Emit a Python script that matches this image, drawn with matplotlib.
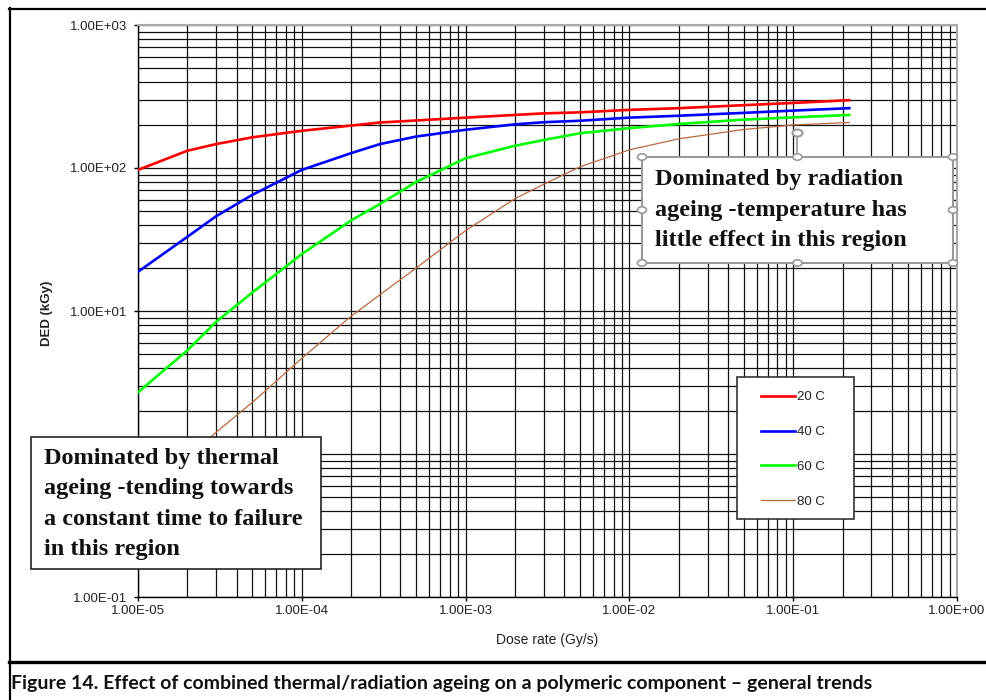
import matplotlib
matplotlib.use("Agg")
import matplotlib.pyplot as plt
from matplotlib.patches import Rectangle, Circle
from matplotlib.lines import Line2D
from matplotlib.ticker import LogLocator, FuncFormatter, NullFormatter

# ---------------- data ----------------
dose_rate = [1e-5, 2e-5, 3e-5, 5e-5, 1e-4, 2e-4, 3e-4, 5e-4, 1e-3, 2e-3,
             3e-3, 5e-3, 1e-2, 2e-2, 5e-2, 1e-1, 2.2e-1]
ded_20C = [97, 132, 147, 164, 182, 198, 208, 215, 225, 235, 241, 245, 255,
           262, 275, 285, 298]
ded_40C = [18.8, 33, 46, 65, 97, 127, 147, 166, 185, 202, 209, 214, 225,
           232, 243, 252, 262]
ded_60C = [2.7, 5.3, 8.4, 13.5, 25, 43, 56, 80, 117, 143, 157, 175, 190,
           203, 218, 226, 235]
ded_80C = [0.47, 0.95, 1.42, 2.3, 4.67, 9.2, 13, 20, 36.5, 61, 77, 102, 134,
           160, 186, 200, 208]
series_labels = ["20 C", "40 C", "60 C", "80 C"]
series_colors = ["#ff0000", "#0000ff", "#00ff00", "#b8683e"]
series_widths = [1.9, 1.9, 1.9, 0.9]

note_radiation = "Dominated by radiation\nageing -temperature has\nlittle effect in this region"
note_thermal = "Dominated by thermal\nageing -tending towards\na constant time to failure\nin this region"
caption = ("Figure 14. Effect of combined thermal/radiation ageing on a "
           "polymeric component \u2013 general trends")

W, H = 987, 700
fig = plt.figure(figsize=(W / 100, H / 100), dpi=100)


def fx(x):
    return x / W


def fy(y):
    return 1 - y / H


ax = fig.add_axes([fx(138), fy(597), (957 - 138) / W, (597 - 25) / H])
ax.set_xscale("log")
ax.set_yscale("log")
ax.set_xlim(1e-5, 1)
ax.set_ylim(0.1, 1000)

for ys, lab, col, lw in zip([ded_20C, ded_40C, ded_60C, ded_80C],
                            series_labels, series_colors, series_widths):
    ax.plot(dose_rate, ys, color=col, lw=lw, label=lab, zorder=3)

ax.xaxis.set_major_locator(LogLocator(base=10, numticks=10))
ax.yaxis.set_major_locator(LogLocator(base=10, numticks=10))
ax.xaxis.set_minor_locator(LogLocator(base=10, subs=range(2, 10), numticks=20))
ax.yaxis.set_minor_locator(LogLocator(base=10, subs=range(2, 10), numticks=20))
ax.xaxis.set_major_formatter(FuncFormatter(lambda v, p: f"{v:.2E}"))
# the 1.00E+00 label on the y axis is hidden behind the note box
ax.yaxis.set_major_formatter(
    FuncFormatter(lambda v, p: "" if abs(v - 1) < 1e-9 else f"{v:.2E}"))
ax.xaxis.set_minor_formatter(NullFormatter())
ax.yaxis.set_minor_formatter(NullFormatter())

ax.grid(True, which="both", color="#111111", lw=0.9)
ax.set_axisbelow(True)

ax.tick_params(which="major", direction="out", length=3, width=1,
               color="black", labelsize=9.5, labelcolor="#222222")
ax.tick_params(axis="y", which="major", pad=5)
ax.tick_params(axis="x", which="major", pad=2.5)
ax.tick_params(which="minor", length=0)
for lab in ax.get_xticklabels() + ax.get_yticklabels():
    lab.set_fontfamily("Liberation Sans")

for s in ["left", "bottom"]:
    ax.spines[s].set_color("black")
    ax.spines[s].set_linewidth(1)
for s in ["top", "right"]:
    ax.spines[s].set_color("#a8a8a8")
    ax.spines[s].set_linewidth(1.5)

fig.text(fx(547), fy(640), "Dose rate (Gy/s)", ha="center", va="center",
         fontsize=10, family="Liberation Sans", color="#222222")
fig.text(fx(47), fy(313), "DED (kGy)", ha="center", va="center",
         rotation=90, fontsize=9.5, family="Liberation Sans",
         fontweight="bold", color="#222222")

# legend with a hand-drawn frame
leg = ax.legend(loc="center", bbox_to_anchor=(fx(793), fy(449.5)),
                bbox_transform=fig.transFigure, frameon=False,
                handlelength=2.6, handletextpad=0.15, labelspacing=1.72,
                prop={"family": "Liberation Sans", "size": 9.5})
leg.set_zorder(12)
for t in leg.get_texts():
    t.set_color("#222222")
ax.add_patch(Rectangle((fx(737), fy(519)), (854 - 737) / W, (519 - 377) / H,
                       transform=fig.transFigure, clip_on=False,
                       facecolor="white", edgecolor="#333333", lw=1.2,
                       zorder=11))

# annotation box 1 (selected text box with handles)
x0, y0, x1, y1 = 642, 157, 953, 263
ax.add_patch(Rectangle((fx(x0), fy(y1)), (x1 - x0) / W, (y1 - y0) / H,
                       transform=fig.transFigure, clip_on=False,
                       facecolor="white", edgecolor="#9a9a9a", lw=1.5,
                       zorder=10))
fig.text(fx(655), fy(210), note_radiation, ha="left", va="center",
         fontsize=17.5, fontweight="bold", family="Liberation Serif",
         linespacing=1.58, color="#111111", zorder=13)
xm, ym = (x0 + x1) / 2, (y0 + y1) / 2
ax.add_line(Line2D([fx(xm), fx(xm)], [fy(y0), fy(138)],
                   transform=fig.transFigure, color="#9a9a9a", lw=1.2,
                   clip_on=False, zorder=10))
for hx, hy in [(x0, y0), (xm, y0), (x1, y0), (x0, ym), (x1, ym),
               (x0, y1), (xm, y1), (x1, y1)]:
    ax.add_patch(Circle((fx(hx), fy(hy)), 4.5 / W, transform=fig.transFigure,
                        clip_on=False, facecolor="white",
                        edgecolor="#9a9a9a", lw=1.2, zorder=12))
ax.add_patch(Circle((fx(xm), fy(133)), 5 / W, transform=fig.transFigure,
                    clip_on=False, facecolor="white", edgecolor="#9a9a9a",
                    lw=1.5, zorder=12))

# annotation box 2
ax.add_patch(Rectangle((fx(31), fy(569)), (321 - 31) / W, (569 - 437) / H,
                       transform=fig.transFigure, clip_on=False,
                       facecolor="white", edgecolor="#222222", lw=1.2,
                       zorder=10))
fig.text(fx(44), fy(504), note_thermal, ha="left", va="center",
         fontsize=17.5, fontweight="bold", family="Liberation Serif",
         linespacing=1.58, color="#111111", zorder=13)

# outer frame and caption
frame_kw = dict(transform=fig.transFigure, color="black", clip_on=False)
fig.add_artist(Line2D([fx(9), fx(987)], [fy(8.5), fy(8.5)], lw=1.6, **frame_kw))
fig.add_artist(Line2D([fx(9.5), fx(9.5)], [fy(8), fy(700)], lw=1.6, **frame_kw))
fig.add_artist(Line2D([fx(9), fx(987)], [fy(662), fy(662)], lw=2.4, **frame_kw))
fig.text(fx(11), fy(684), caption, ha="left", va="center", fontsize=14,
         fontweight="bold", family=["Lato", "DejaVu Sans"], color="#111111")

fig.savefig("out.png", dpi=100)
